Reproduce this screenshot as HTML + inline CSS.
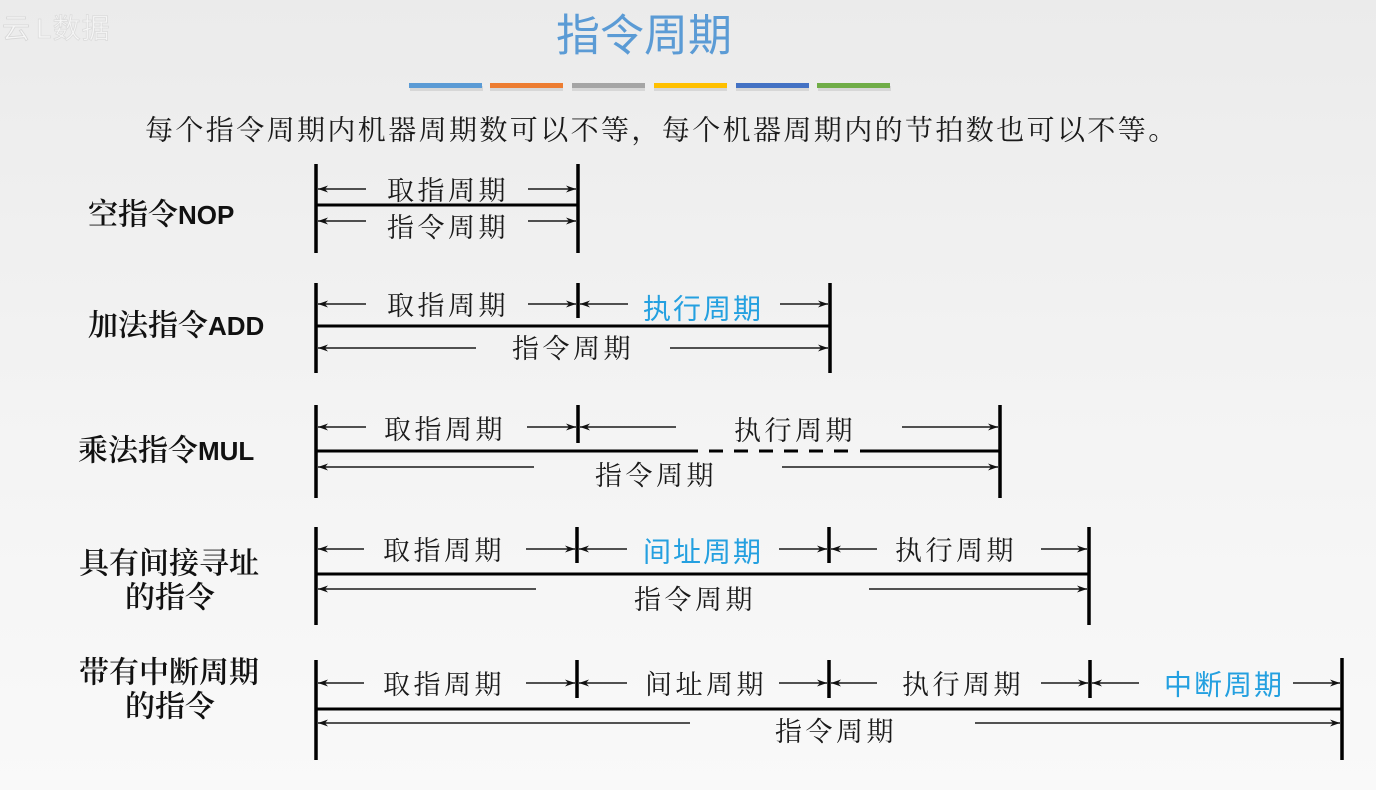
<!DOCTYPE html>
<html><head><meta charset="utf-8"><style>
html,body{margin:0;padding:0;}
body{width:1376px;height:790px;overflow:hidden;background:linear-gradient(#ebebeb 0%,#f3f3f3 50%,#f9f9f9 100%);}
svg{display:block;}
.lbl{font-family:"Liberation Serif","Noto Serif CJK SC",serif;font-size:30px;font-weight:600;fill:#111;}
.en{font-family:"Liberation Sans",sans-serif;font-weight:700;font-size:26px;}
.t{font-family:"Liberation Serif","Noto Serif CJK SC",serif;font-size:27px;letter-spacing:3.5px;fill:#1a1a1a;}
.b{font-family:"Liberation Sans","Noto Sans CJK SC",sans-serif;font-size:28px;letter-spacing:2px;fill:#24a0e0;}
.v{stroke:#000;stroke-width:3.5;}
.h{stroke:#000;stroke-width:3;}
.a{stroke:#1a1a1a;stroke-width:1.5;marker-end:url(#ar);}
</style></head><body>
<svg width="1376" height="790" viewBox="0 0 1376 790" xmlns="http://www.w3.org/2000/svg">
<defs>
<marker id="ar" markerWidth="10" markerHeight="8" refX="10" refY="4" orient="auto" markerUnits="userSpaceOnUse">
<path d="M0,0.5 L10,4 L0,7.5 L3,4 Z" fill="#111"/>
</marker>
</defs>

<!-- watermark -->
<text x="2" y="38" font-family="Liberation Sans,'Noto Sans CJK SC',sans-serif" font-size="28" fill="#f6f6f6" stroke="#d6d6d6" stroke-width="0.8">云</text>
<text x="36" y="38" font-family="Liberation Sans,'Noto Sans CJK SC',sans-serif" font-size="28" fill="#f6f6f6" stroke="#dcdcdc" stroke-width="0.8" letter-spacing="1">L数据</text>

<!-- title -->
<text x="644" y="36" text-anchor="middle" dominant-baseline="central" font-family="Liberation Sans,'Noto Sans CJK SC',sans-serif" font-size="44" fill="#5b9bd5">指令周期</text>

<!-- color bars -->
<g>
<rect x="410" y="86" width="73" height="5" fill="#c8c8c8" opacity="0.6"/>
<rect x="490" y="86" width="73" height="5" fill="#c8c8c8" opacity="0.6"/>
<rect x="572" y="86" width="73" height="5" fill="#c8c8c8" opacity="0.6"/>
<rect x="654" y="86" width="73" height="5" fill="#c8c8c8" opacity="0.6"/>
<rect x="736" y="86" width="73" height="5" fill="#c8c8c8" opacity="0.6"/>
<rect x="818" y="86" width="73" height="5" fill="#c8c8c8" opacity="0.6"/>
<rect x="409" y="83" width="73" height="5" fill="#5b9bd5"/>
<rect x="490" y="83" width="73" height="5" fill="#ed7d31"/>
<rect x="572" y="83" width="73" height="5" fill="#a5a5a5"/>
<rect x="654" y="83" width="73" height="5" fill="#ffc000"/>
<rect x="736" y="83" width="73" height="5" fill="#4472c4"/>
<rect x="817" y="83" width="73" height="5" fill="#70ad47"/>
</g>

<!-- subtitle -->
<text x="145" y="131" dominant-baseline="central" font-family="Liberation Serif,'Noto Serif CJK SC',serif" font-size="28" letter-spacing="2.4" fill="#1a1a1a">每个指令周期内机器周期数可以不等，每个机器周期内的节拍数也可以不等。</text>

<!-- left labels -->
<text class="lbl" x="88" y="215" dominant-baseline="central">空指令<tspan class="en">NOP</tspan></text>
<text class="lbl" x="88" y="326" dominant-baseline="central">加法指令<tspan class="en">ADD</tspan></text>
<text class="lbl" x="78" y="451" dominant-baseline="central">乘法指令<tspan class="en">MUL</tspan></text>
<text class="lbl" x="79" y="564" dominant-baseline="central">具有间接寻址</text>
<text class="lbl" x="125" y="598" dominant-baseline="central">的指令</text>
<text class="lbl" x="79" y="673" dominant-baseline="central">带有中断周期</text>
<text class="lbl" x="125" y="707" dominant-baseline="central">的指令</text>

<!-- Row 1 NOP -->
<line class="v" x1="316" y1="164" x2="316" y2="253"/>
<line class="v" x1="578" y1="164" x2="578" y2="253"/>
<line class="h" x1="316" y1="205" x2="578" y2="205"/>
<line class="a" x1="366" y1="189" x2="318" y2="189"/>
<line class="a" x1="528" y1="189" x2="576" y2="189"/>
<line class="a" x1="366" y1="221" x2="318" y2="221"/>
<line class="a" x1="528" y1="221" x2="576" y2="221"/>
<text class="t" x="387" y="191" dominant-baseline="central">取指周期</text>
<text class="t" x="387" y="228" dominant-baseline="central">指令周期</text>

<!-- Row 2 ADD -->
<line class="v" x1="316" y1="283" x2="316" y2="373"/>
<line class="v" x1="830" y1="283" x2="830" y2="373"/>
<line class="v" x1="578" y1="283" x2="578" y2="318"/>
<line class="h" x1="316" y1="326" x2="830" y2="326"/>
<line class="a" x1="366" y1="304" x2="318" y2="304"/>
<line class="a" x1="528" y1="304" x2="576" y2="304"/>
<line class="a" x1="628" y1="304" x2="580" y2="304"/>
<line class="a" x1="780" y1="304" x2="828" y2="304"/>
<line class="a" x1="476" y1="348" x2="318" y2="348"/>
<line class="a" x1="670" y1="348" x2="828" y2="348"/>
<text class="t" x="387" y="306" dominant-baseline="central">取指周期</text>
<text class="b" x="643" y="309" dominant-baseline="central">执行周期</text>
<text class="t" x="512" y="349" dominant-baseline="central">指令周期</text>

<!-- Row 3 MUL -->
<line class="v" x1="316" y1="405" x2="316" y2="498"/>
<line class="v" x1="1000" y1="405" x2="1000" y2="498"/>
<line class="v" x1="578" y1="405" x2="578" y2="443"/>
<line class="h" x1="316" y1="451" x2="698" y2="451"/>
<line class="h" x1="709" y1="451" x2="848" y2="451" stroke-dasharray="14 11"/>
<line class="h" x1="860" y1="451" x2="1000" y2="451"/>
<line class="a" x1="366" y1="427" x2="318" y2="427"/>
<line class="a" x1="527" y1="427" x2="576" y2="427"/>
<line class="a" x1="676" y1="427" x2="580" y2="427"/>
<line class="a" x1="902" y1="427" x2="998" y2="427"/>
<line class="a" x1="534" y1="467" x2="318" y2="467"/>
<line class="a" x1="782" y1="467" x2="998" y2="467"/>
<text class="t" x="384" y="430" dominant-baseline="central">取指周期</text>
<text class="t" x="734" y="431" dominant-baseline="central">执行周期</text>
<text class="t" x="595" y="476" dominant-baseline="central">指令周期</text>

<!-- Row 4 indirect -->
<line class="v" x1="316" y1="527" x2="316" y2="625"/>
<line class="v" x1="1089" y1="527" x2="1089" y2="625"/>
<line class="v" x1="577" y1="527" x2="577" y2="563"/>
<line class="v" x1="829" y1="527" x2="829" y2="563"/>
<line class="h" x1="316" y1="574" x2="1089" y2="574"/>
<line class="a" x1="364" y1="549" x2="318" y2="549"/>
<line class="a" x1="526" y1="549" x2="575" y2="549"/>
<line class="a" x1="627" y1="549" x2="579" y2="549"/>
<line class="a" x1="779" y1="549" x2="827" y2="549"/>
<line class="a" x1="877" y1="549" x2="831" y2="549"/>
<line class="a" x1="1041" y1="549" x2="1087" y2="549"/>
<line class="a" x1="536" y1="589" x2="318" y2="589"/>
<line class="a" x1="869" y1="589" x2="1087" y2="589"/>
<text class="t" x="383" y="551" dominant-baseline="central">取指周期</text>
<text class="b" x="643" y="552" dominant-baseline="central">间址周期</text>
<text class="t" x="895" y="551" dominant-baseline="central">执行周期</text>
<text class="t" x="634" y="600" dominant-baseline="central">指令周期</text>

<!-- Row 5 interrupt -->
<line class="v" x1="316" y1="660" x2="316" y2="760"/>
<line class="v" x1="1342" y1="658" x2="1342" y2="760"/>
<line class="v" x1="577" y1="660" x2="577" y2="698"/>
<line class="v" x1="829" y1="660" x2="829" y2="698"/>
<line class="v" x1="1090" y1="660" x2="1090" y2="698"/>
<line class="h" x1="316" y1="709" x2="1342" y2="709"/>
<line class="a" x1="364" y1="683" x2="318" y2="683"/>
<line class="a" x1="526" y1="683" x2="575" y2="683"/>
<line class="a" x1="627" y1="683" x2="579" y2="683"/>
<line class="a" x1="779" y1="683" x2="827" y2="683"/>
<line class="a" x1="877" y1="683" x2="831" y2="683"/>
<line class="a" x1="1041" y1="683" x2="1088" y2="683"/>
<line class="a" x1="1139" y1="683" x2="1092" y2="683"/>
<line class="a" x1="1293" y1="683" x2="1340" y2="683"/>
<line class="a" x1="690" y1="723" x2="318" y2="723"/>
<line class="a" x1="975" y1="723" x2="1340" y2="723"/>
<text class="t" x="383" y="685" dominant-baseline="central">取指周期</text>
<text class="t" x="645" y="685" dominant-baseline="central">间址周期</text>
<text class="t" x="902" y="685" dominant-baseline="central">执行周期</text>
<text class="b" x="1164" y="685" dominant-baseline="central">中断周期</text>
<text class="t" x="775" y="732" dominant-baseline="central">指令周期</text>
</svg>
</body></html>
